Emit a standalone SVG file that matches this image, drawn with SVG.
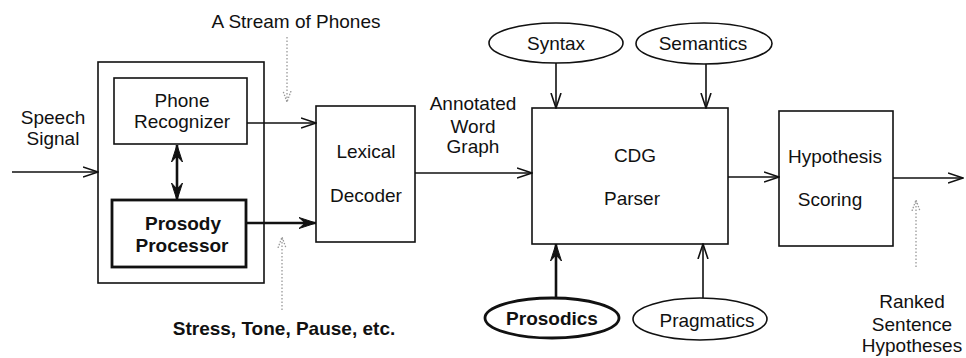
<svg xmlns="http://www.w3.org/2000/svg" width="966" height="358" viewBox="0 0 966 358">
<style>
  text { font-family: "Liberation Sans", Arial, sans-serif; font-size: 19px; fill: #111; text-anchor: middle; }
  .b { font-weight: bold; }
  .box { fill: none; stroke: #111; stroke-width: 1.6; }
  .thick { fill: none; stroke: #111; stroke-width: 2.8; }
  .ln { fill: none; stroke: #111; stroke-width: 1.6; }
  .lnb { fill: none; stroke: #111; stroke-width: 2.6; }
  .dot { fill: none; stroke: #999; stroke-width: 1.3; stroke-dasharray: 1.5 2; }
</style>
<defs>
  <marker id="open" markerUnits="userSpaceOnUse" markerWidth="16" markerHeight="12" viewBox="0 0 16 12" refX="15" refY="6" orient="auto-start-reverse">
    <path d="M0,1 L15,6 L0,11" fill="none" stroke="#111" stroke-width="1.6"/>
  </marker>
  <marker id="solid" markerUnits="userSpaceOnUse" markerWidth="18" markerHeight="12" viewBox="0 0 18 12" refX="17" refY="6" orient="auto-start-reverse">
    <path d="M0,0.5 L17,6 L0,11.5 L6,6 z" fill="#111" stroke="#111" stroke-width="1"/>
  </marker>
  <marker id="dotopen" markerUnits="userSpaceOnUse" markerWidth="12" markerHeight="10" viewBox="0 0 12 10" refX="11" refY="5" orient="auto">
    <path d="M0,1 L11,5 L0,9" fill="none" stroke="#999" stroke-width="1.3" stroke-dasharray="1.5 1.5"/>
  </marker>
</defs>

<g id="connectors">
  <path class="ln" d="M12,172 H98" marker-end="url(#open)"/>
  <path class="ln" d="M247,123 H316" marker-end="url(#open)"/>
  <path class="lnb" d="M246,223 H316" marker-end="url(#solid)"/>
  <path class="lnb" d="M177,145 V200" marker-start="url(#solid)" marker-end="url(#solid)"/>
  <path class="ln" d="M415,173 H532" marker-end="url(#open)"/>
  <path class="ln" d="M556,63 V108" marker-end="url(#open)"/>
  <path class="ln" d="M706,64 V108" marker-end="url(#open)"/>
  <path class="lnb" d="M556,298 V244" marker-end="url(#solid)"/>
  <path class="ln" d="M703,298 V244" marker-end="url(#open)"/>
  <path class="ln" d="M728,177 H779" marker-end="url(#open)"/>
  <path class="ln" d="M893,178 H963" marker-end="url(#open)"/>
  <path class="dot" d="M287,37 V102" marker-end="url(#dotopen)"/>
  <path class="dot" d="M282,310 V237" marker-end="url(#dotopen)"/>
  <path class="dot" d="M916,267 V200" marker-end="url(#dotopen)"/>
</g>

<g id="speech-signal">
  <text x="53" y="124">Speech</text>
  <text x="53" y="145">Signal</text>
</g>

<g id="front-end">
  <rect class="box" x="98" y="62" width="166" height="221"/>
</g>

<g id="phone-recognizer">
  <rect class="box" x="114" y="78" width="133" height="66"/>
  <text x="182" y="107">Phone</text>
  <text x="182" y="128">Recognizer</text>
</g>

<g id="prosody-processor">
  <rect class="thick" x="112" y="200" width="134" height="67"/>
  <text class="b" x="183" y="230">Prosody</text>
  <text class="b" x="182" y="252">Processor</text>
</g>

<g id="stream-label">
  <text x="296" y="28">A Stream of Phones</text>
</g>

<g id="stress-label">
  <text class="b" x="284" y="335">Stress, Tone, Pause, etc.</text>
</g>

<g id="lexical-decoder">
  <rect class="box" x="316" y="106" width="99" height="136"/>
  <text x="366" y="158">Lexical</text>
  <text x="366" y="202">Decoder</text>
</g>

<g id="word-graph-label">
  <text x="473" y="110">Annotated</text>
  <text x="473" y="133">Word</text>
  <text x="473" y="153">Graph</text>
</g>

<g id="syntax">
  <ellipse class="box" cx="556" cy="43" rx="67" ry="20"/>
  <text x="556" y="50">Syntax</text>
</g>

<g id="semantics">
  <ellipse class="box" cx="704" cy="43.5" rx="68" ry="20.5"/>
  <text x="703" y="50">Semantics</text>
</g>

<g id="cdg-parser">
  <rect class="box" x="532" y="108" width="196" height="136"/>
  <text x="635" y="162">CDG</text>
  <text x="632" y="205">Parser</text>
</g>

<g id="prosodics">
  <ellipse class="thick" cx="552" cy="318" rx="67" ry="20"/>
  <text class="b" x="552" y="325">Prosodics</text>
</g>

<g id="pragmatics">
  <ellipse class="box" cx="700" cy="319" rx="67" ry="21"/>
  <text x="707" y="327">Pragmatics</text>
</g>

<g id="hypothesis-scoring">
  <rect class="box" x="779" y="111" width="114" height="135"/>
  <text x="835" y="163">Hypothesis</text>
  <text x="830" y="206">Scoring</text>
</g>

<g id="ranked-label">
  <text x="912" y="308">Ranked</text>
  <text x="912" y="331">Sentence</text>
  <text x="912" y="352">Hypotheses</text>
</g>
</svg>
